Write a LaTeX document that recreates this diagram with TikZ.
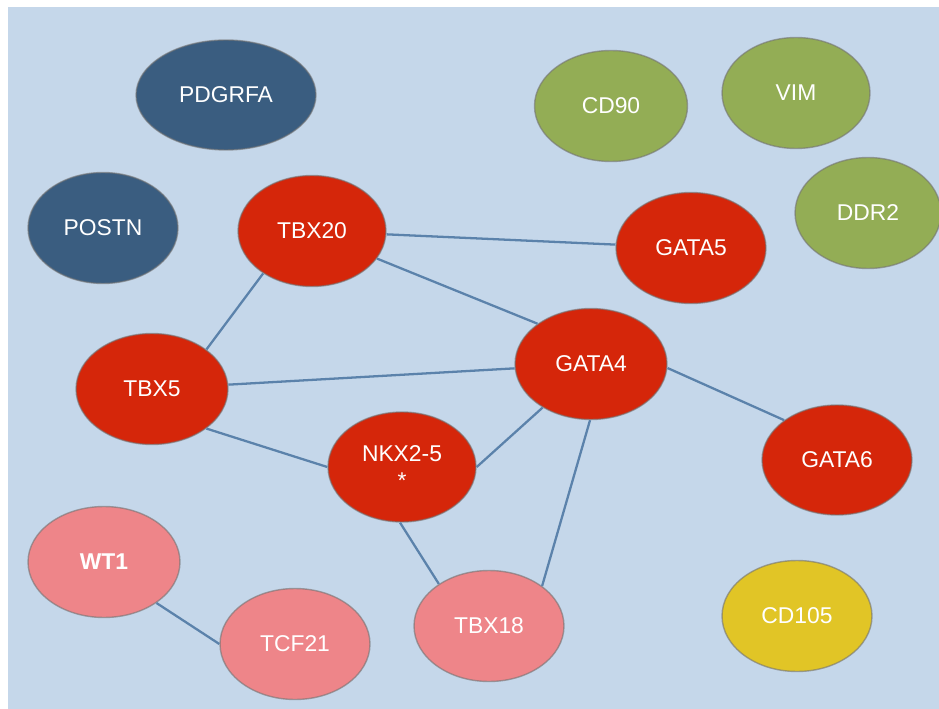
\documentclass[tikz,border=0pt]{standalone}
\usepackage{fontspec}
\setmainfont{Liberation Sans}
\usetikzlibrary{shapes.geometric}
\definecolor{bgblue}{HTML}{C5D7EA}
\definecolor{darkblue}{HTML}{3A5D80}
\definecolor{olive}{HTML}{93AD55}
\definecolor{genered}{HTML}{D5260A}
\definecolor{pink}{HTML}{EE8589}
\definecolor{mustard}{HTML}{E1C526}
\definecolor{linkblue}{HTML}{5B82AB}
\tikzset{gene/.style = {ellipse, inner sep = 0, minimum width = 3cm, minimum height = 2.22cm,
    text = white, align = center, font = \fontsize{13}{15}\selectfont,
    draw = black!55, draw opacity = 0.6, line width = 0.8pt}}
\tikzset{link/.style = {linkblue, line width = 1.3pt}}

\begin{document}
\begin{tikzpicture}[x = 0.02cm, y = -0.02cm]
    \useasboundingbox (0, 0) rectangle (939, 709);
    \fill [white] (0, 0) rectangle (939, 709);
    \fill [bgblue] (8, 7) rectangle (939, 709);

    \node [gene, fill=darkblue, minimum width=3.6cm, minimum height=2.2cm] (PDG) at (226, 95) {PDGRFA};
    \node [gene, fill=darkblue] (POS) at (103, 228) {POSTN};

    \node [gene, fill=olive, minimum width=3.06cm] (CD90) at (611, 106) {CD90};
    \node [gene, fill=olive, minimum width=2.96cm] (VIM) at (796, 93) {VIM};
    \node [gene, fill=olive, minimum width=2.92cm] (DDR2) at (868, 213) {DDR2};

    \node [gene, fill=genered, minimum width=2.96cm] (T20) at (312, 231) {TBX20};
    \node [gene, fill=genered] (G5) at (691, 248) {GATA5};
    \node [gene, fill=genered, minimum width=3.04cm] (G4) at (591, 364) {GATA4};
    \node [gene, fill=genered, minimum width=3.04cm] (T5) at (152, 389) {TBX5};
    \node [gene, fill=genered, minimum width=2.96cm, minimum height=2.2cm] (NKX) at (402, 467) {NKX2-5\\*};
    \node [gene, fill=genered, minimum height=2.2cm] (G6) at (837, 460) {GATA6};

    \node [gene, fill=pink, minimum width=3.04cm] (WT) at (104, 562) {\bfseries WT1};
    \node [gene, fill=pink] (TCF) at (295, 644) {TCF21};
    \node [gene, fill=pink] (T18) at (489, 626) {TBX18};

    \node [gene, fill=mustard] (CD105) at (797, 616) {CD105};

    \draw [link] (T20) -- (G5);
    \draw [link] (T20.-23) -- (G4.143);
    \draw [link] (T20.-139) -- (T5.36);
    \draw [link] (T5) -- (G4);
    \draw [link] (T5.-36) -- (NKX.180);
    \draw [link] (NKX.0) -- (G4.-138);
    \draw [link] (NKX.-92) -- (T18.140);
    \draw [link] (G4.-91) -- (T18.37);
    \draw [link] (G4.-3) -- (G6.143);
    \draw [link] (WT.-38) -- (TCF.180);
\end{tikzpicture}
\end{document}
